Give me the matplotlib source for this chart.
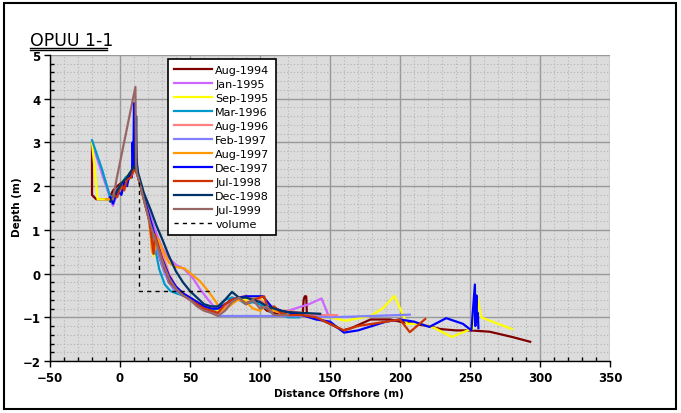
import matplotlib
matplotlib.use("Agg")
import matplotlib.pyplot as plt
from matplotlib.patches import Rectangle
from matplotlib.lines import Line2D
from matplotlib.ticker import MultipleLocator

# ---- data ----
labels = ["Aug-1994", "Jan-1995", "Sep-1995", "Mar-1996", "Aug-1996", "Feb-1997",
          "Aug-1997", "Dec-1997", "Jul-1998", "Dec-1998", "Jul-1999"]
colors = ["#800000", "#cc66ff", "#ffff00", "#0099cc", "#ff8080", "#8080ff",
          "#ff9900", "#0000ff", "#cc3300", "#003366", "#996666"]

aug1994_x = [-20, -20, -17, -12, -8, -5, -2, 2, 5, 8, 10, 12, 13, 18, 22, 26, 30, 35, 40, 45, 50, 55,
             60, 65, 70, 75, 80, 85, 90, 95, 100, 105, 110, 115, 120, 125, 130.5, 131.2, 132, 133,
             133.5, 140, 150, 159, 165, 179, 193, 200, 210, 220, 229, 240, 250, 264, 280, 293]
aug1994_y = [3.0, 1.8, 1.7, 1.7, 1.7, 1.9, 2.0, 2.1, 2.2, 2.3, 2.4, 2.3, 2.2, 1.7, 1.2, 0.6, 0.2, -0.2,
             -0.4, -0.5, -0.55, -0.65, -0.75, -0.85, -0.9, -0.75, -0.55, -0.6, -0.6, -0.65, -0.7,
             -0.85, -0.9, -0.9, -0.95, -0.95, -0.92, -0.6, -0.52, -0.52, -0.92, -1.0, -1.15, -1.3,
             -1.25, -1.05, -1.05, -1.1, -1.15, -1.2, -1.27, -1.3, -1.3, -1.33, -1.45, -1.56]

jan1995_x = [-19, -12, -5, -3, 0, 3, 6, 9, 11, 12.5, 16, 20, 25, 30, 35, 40, 46, 52, 57, 63, 67, 72,
             76, 80, 85, 90, 95, 100, 105, 110, 115, 120, 125, 135, 144, 149]
jan1995_y = [2.9, 2.2, 1.55, 1.75, 1.9, 2.0, 2.15, 2.3, 2.4, 2.3, 1.9, 1.5, 1.0, 0.6, 0.35, 0.2, 0.1,
             -0.1, -0.35, -0.6, -0.75, -0.85, -0.8, -0.65, -0.55, -0.6, -0.65, -0.7, -0.8, -0.85,
             -0.9, -0.85, -0.8, -0.7, -0.57, -0.97]

sep1995_x = [-20, -16, -10, -6, -3, 0, 4, 8, 10, 12, 13, 18, 22, 24, 25, 28, 33, 40, 50, 60, 70, 80,
             90, 100, 110, 120, 130, 140, 150, 161, 179, 188, 196, 205, 215, 225, 237, 250.5, 252,
             255, 258, 270, 280]
sep1995_y = [3.0, 1.7, 1.7, 1.7, 1.8, 2.0, 2.2, 2.35, 2.4, 2.3, 2.2, 1.6, 1.2, 0.4, 0.8, 0.5, 0.0,
             -0.35, -0.55, -0.75, -0.85, -0.6, -0.6, -0.55, -0.85, -0.9, -0.95, -1.0, -1.0, -1.08,
             -0.97, -0.79, -0.51, -1.15, -1.15, -1.25, -1.45, -1.27, -1.27, -0.5, -1.0, -1.15, -1.27]

mar1996_x = [-20, -13, -7, -4, 0, 4, 8, 10, 12, 13, 17, 21, 25, 28, 32, 36, 40, 45, 50, 55, 60, 65,
             70, 75, 80, 85, 90, 95, 100, 105, 110, 115, 120, 128]
mar1996_y = [3.05, 2.4, 1.75, 1.8, 2.0, 2.2, 2.3, 2.4, 2.3, 2.2, 1.7, 1.2, 0.6, 0.1, -0.25, -0.4,
             -0.45, -0.5, -0.55, -0.65, -0.75, -0.85, -0.8, -0.6, -0.55, -0.6, -0.7, -0.65, -0.7,
             -0.8, -0.95, -0.95, -1.0, -1.0]

aug1996_x = [-5, -2, 2, 5, 8, 10, 11, 12, 13, 17, 20, 22, 23, 25, 30, 35, 40, 45, 50, 55, 60, 65,
             70, 75, 80, 85, 90, 95, 100, 105, 110, 115, 120, 130, 140, 150, 155]
aug1996_y = [1.7, 1.85, 2.05, 2.2, 2.3, 2.4, 2.35, 2.3, 2.2, 1.8, 1.4, 0.9, 0.5, 0.9, 0.5, 0.0, -0.3,
             -0.45, -0.55, -0.65, -0.75, -0.85, -0.9, -0.75, -0.6, -0.55, -0.5, -0.6, -0.6, -0.7,
             -0.8, -0.85, -0.85, -0.9, -0.95, -0.95, -0.95]

feb1997_x = [-5, -2, 1, 4, 7, 10, 12, 13, 18, 23, 27, 32, 38, 45, 52, 60, 66, 71, 100, 130, 150,
             180, 207]
feb1997_y = [1.6, 1.8, 2.0, 2.15, 2.3, 2.4, 2.3, 2.2, 1.7, 1.1, 0.5, 0.0, -0.35, -0.5, -0.6, -0.75,
             -0.9, -0.97, -0.97, -0.97, -1.0, -0.97, -0.94]

aug1997_x = [-10, -6, -2, 2, 5, 8, 10, 12, 13, 17, 21, 23, 24, 27, 31, 35, 40, 46, 57, 63, 68.6, 72,
             78, 84, 90, 95, 100, 105, 110, 115, 120]
aug1997_y = [1.7, 1.7, 1.85, 2.0, 2.15, 2.3, 2.4, 2.3, 2.2, 1.7, 1.2, 0.5, 0.45, 0.8, 0.5, 0.25,
             0.15, 0.12, -0.17, -0.4, -0.65, -0.85, -0.75, -0.6, -0.65, -0.8, -0.85, -0.7, -0.85,
             -0.9, -0.95]

dec1997_x = [-7, -5, -2, 1, 3, 5, 7, 8.5, 9, 9.5, 10, 10.5, 11, 11.5, 12, 12.5, 13, 17, 21, 25, 30,
             35, 40, 45, 50, 55, 60, 65, 70, 75, 80, 85, 90, 96, 102, 108, 115, 122, 130, 140, 150,
             160, 170, 180, 190, 200, 210, 221, 233, 245, 251, 253.5, 253.8, 254.6, 255, 255.6, 256]
dec1997_y = [1.75, 1.6, 1.9, 1.8, 2.1, 2.0, 2.3, 2.2, 3.0, 2.4, 3.9, 2.5, 3.3, 2.4, 2.6, 2.3, 2.2,
             1.75, 1.3, 0.85, 0.35, -0.05, -0.3, -0.45, -0.55, -0.65, -0.75, -0.8, -0.8, -0.7, -0.6,
             -0.55, -0.52, -0.52, -0.52, -0.75, -0.85, -0.9, -0.95, -1.05, -1.1, -1.35, -1.3, -1.2,
             -1.1, -1.05, -1.1, -1.22, -1.02, -1.15, -1.3, -0.25, -1.2, -0.5, -1.1, -0.9, -1.25]

jul1998_x = [-5, -2, 1, 3, 5, 8, 10, 12, 13, 17, 21, 24, 25, 28, 32, 36, 40, 45, 50, 55, 60, 65, 70,
             75, 80, 85, 90, 95, 100, 103, 106, 110, 115, 120, 130, 140, 150, 160, 170, 180, 190,
             200, 207, 218]
jul1998_y = [1.8, 1.75, 2.05, 1.9, 2.15, 2.2, 2.4, 2.3, 2.2, 1.7, 1.2, 0.45, 0.9, 0.55, 0.1, -0.2,
             -0.35, -0.5, -0.6, -0.7, -0.8, -0.85, -0.9, -0.7, -0.6, -0.55, -0.7, -0.6, -0.55,
             -0.52, -0.85, -0.75, -0.9, -0.95, -0.95, -1.0, -1.15, -1.3, -1.2, -1.15, -1.1, -1.05,
             -1.34, -1.04]

dec1998_x = [-7, -4, -1, 2, 5, 8, 10, 11, 11.5, 12, 12.5, 13, 17, 22, 26, 30, 35, 40, 45, 50, 55,
             60, 65, 70, 75, 80, 85, 90, 95, 100, 105, 110, 115, 120, 130, 143]
dec1998_y = [1.65, 1.8, 1.95, 2.1, 2.2, 2.35, 2.45, 2.4, 3.6, 2.5, 2.4, 2.3, 1.85, 1.45, 1.1, 0.8,
             0.4, 0.05, -0.2, -0.4, -0.55, -0.7, -0.75, -0.75, -0.6, -0.42, -0.55, -0.55, -0.6,
             -0.65, -0.75, -0.8, -0.85, -0.88, -0.9, -0.92]

jul1999_x = [-5, -2.5, 11, 11.5, 12, 13, 17, 21, 25, 30, 35, 40, 45, 50, 55, 60, 65, 70, 75, 80, 85,
             90, 95, 100, 105, 110, 115, 120]
jul1999_y = [1.7, 2.15, 4.27, 2.5, 2.3, 2.2, 1.7, 1.2, 0.8, 0.3, -0.1, -0.35, -0.5, -0.6, -0.75,
             -0.85, -0.9, -0.97, -0.85, -0.65, -0.55, -0.7, -0.6, -0.8, -0.75, -0.95, -0.95, -0.95]

volume_x = [13.5, 13.5, 67]
volume_y = [2.1, -0.4, -0.4]

series_x = [aug1994_x, jan1995_x, sep1995_x, mar1996_x, aug1996_x, feb1997_x,
            aug1997_x, dec1997_x, jul1998_x, dec1998_x, jul1999_x]
series_y = [aug1994_y, jan1995_y, sep1995_y, mar1996_y, aug1996_y, feb1997_y,
            aug1997_y, dec1997_y, jul1998_y, dec1998_y, jul1999_y]

title = "OPUU 1-1"
xlabel = "Distance Offshore (m)"
ylabel = "Depth (m)"

# ---- figure ----
W, H = 681, 414
fig = plt.figure(figsize=(W / 100, H / 100), dpi=100)
fig.patch.set_facecolor("white")

# outer frame
fig.patches.append(Rectangle((4 / W, 4 / H), 672 / W, 406 / H, transform=fig.transFigure,
                             fill=False, edgecolor="black", linewidth=1.5))

ax = fig.add_axes([50 / W, 1 - 362 / H, 560 / W, 306 / H])
ax.set_facecolor("#dcdcdc")

for xs, ys, c, lab in zip(series_x, series_y, colors, labels):
    ax.plot(xs, ys, color=c, lw=1.6, label=lab, zorder=3)
ax.plot(volume_x, volume_y, color="black", lw=1.0, ls=(0, (3, 3)), label="volume", zorder=4)

ax.set_xlim(-50, 350)
ax.set_ylim(-2, 5)
ax.xaxis.set_major_locator(MultipleLocator(50))
ax.xaxis.set_minor_locator(MultipleLocator(10))
ax.yaxis.set_major_locator(MultipleLocator(1))
ax.yaxis.set_minor_locator(MultipleLocator(0.2))

ax.grid(which="major", color="#999999", lw=1.0, zorder=1)
ax.grid(which="minor", color="#b4b4b4", lw=0.8, ls=(0, (1, 2)), zorder=1)
ax.set_axisbelow(True)

ax.tick_params(which="major", direction="out", length=4, width=1, labelsize=8.5, pad=3)
ax.tick_params(which="minor", direction="in", length=3, width=1)
for lbl in ax.get_xticklabels() + ax.get_yticklabels():
    lbl.set_fontweight("bold")

for side in ["top", "right"]:
    ax.spines[side].set_visible(False)
for side in ["left", "bottom"]:
    ax.spines[side].set_linewidth(1.0)

ax.set_xlabel(xlabel, fontsize=7.5, fontweight="bold")
ax.set_ylabel(ylabel, fontsize=7.5, fontweight="bold")
ax.xaxis.set_label_coords((339 - 50) / 560, -(389 - 362) / 306)
ax.yaxis.set_label_coords((22 - 50) / 560, (362 - 207) / 306)

leg = ax.legend(loc="upper left", bbox_to_anchor=(0.2107, 0.987), fontsize=8,
                frameon=True, fancybox=False, edgecolor="black", framealpha=1,
                handlelength=3.4, labelspacing=0.36, borderpad=0.55, handletextpad=0.3,
                borderaxespad=0)
leg.get_frame().set_linewidth(1.2)

# title with double underline
fig.text(30 / W, 1 - 46 / H, title, fontsize=12.5, ha="left", va="baseline")
fig.add_artist(Line2D([30 / W, 107 / W], [1 - 48.5 / H, 1 - 48.5 / H], color="black", lw=1))
fig.add_artist(Line2D([30 / W, 107 / W], [1 - 51 / H, 1 - 51 / H], color="black", lw=1))

fig.savefig("out.png", dpi=100)
